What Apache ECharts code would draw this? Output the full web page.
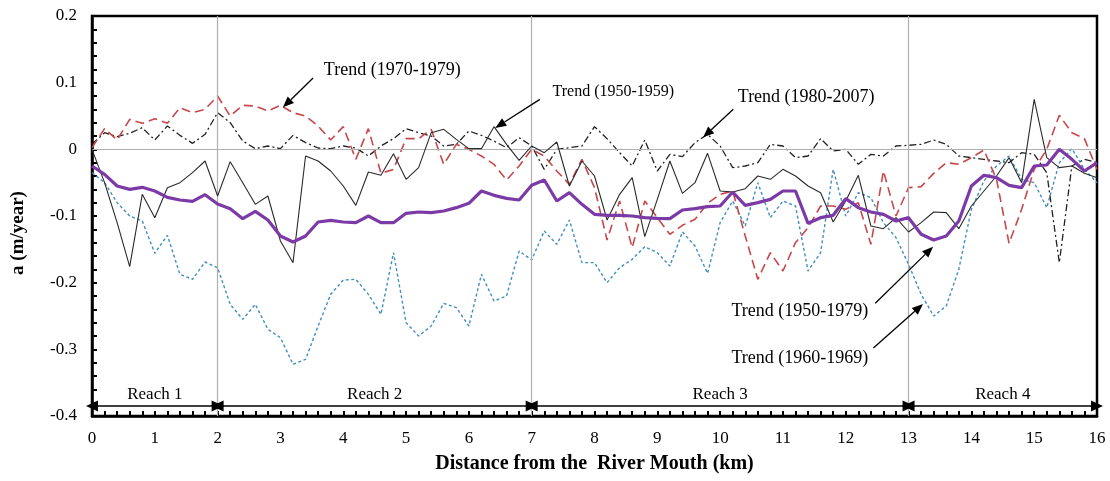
<!DOCTYPE html>
<html><head><meta charset="utf-8">
<script src="https://cdn.jsdelivr.net/npm/echarts@6/dist/echarts.min.js"></script>
<style>html,body{margin:0;padding:0;background:#fff}#c{width:1110px;height:481px}</style>
</head><body><div id="c"></div>
<script>
const distanceKm = [0,0.2,0.4,0.6,0.8,1,1.2,1.4,1.6,1.8,2,2.2,2.4,2.6,2.8,3,3.2,3.4,3.6,3.8,4,4.2,4.4,4.6,4.8,5,5.2,5.4,5.6,5.8,6,6.2,6.4,6.6,6.8,7,7.2,7.4,7.6,7.8,8,8.2,8.4,8.6,8.8,9,9.2,9.4,9.6,9.8,10,10.2,10.4,10.6,10.8,11,11.2,11.4,11.6,11.8,12,12.2,12.4,12.6,12.8,13,13.2,13.4,13.6,13.8,14,14.2,14.4,14.6,14.8,15,15.2,15.4,15.6,15.8,16];

const trend1950_1959 = [0,-0.05,-0.11,-0.176,-0.0675,-0.1025,-0.0575,-0.05,-0.035,-0.0175,-0.07,-0.0185,-0.05,-0.0825,-0.07,-0.1375,-0.17,-0.01,-0.0175,-0.0325,-0.055,-0.084,-0.034,-0.039,-0.0065,-0.045,-0.0275,0.025,0.03,0.015,0.001,0.001,0.034,0.0075,-0.0165,0.005,-0.005,0.011,-0.055,-0.0175,-0.04,-0.106,-0.0675,-0.0425,-0.131,-0.075,-0.0175,-0.066,-0.05,-0.006,-0.0625,-0.064,-0.059,-0.04,-0.045,-0.03,-0.04,-0.055,-0.065,-0.109,-0.0775,-0.039,-0.115,-0.119,-0.1025,-0.124,-0.11,-0.094,-0.095,-0.119,-0.085,-0.0625,-0.04,-0.0125,-0.05,0.075,-0.0125,-0.0275,-0.025,-0.036,-0.0425];

const trend1960_1969 = [-0.035,-0.05,-0.08,-0.1,-0.1075,-0.156,-0.129,-0.1875,-0.195,-0.169,-0.1775,-0.2325,-0.255,-0.2325,-0.27,-0.2825,-0.3225,-0.315,-0.265,-0.2175,-0.196,-0.195,-0.2175,-0.2475,-0.155,-0.26,-0.28,-0.265,-0.231,-0.2375,-0.265,-0.1875,-0.2275,-0.22,-0.1525,-0.166,-0.1225,-0.1425,-0.106,-0.17,-0.17,-0.2,-0.1775,-0.165,-0.146,-0.155,-0.175,-0.124,-0.145,-0.186,-0.11,-0.0775,-0.115,-0.05,-0.1025,-0.0775,-0.085,-0.1825,-0.155,-0.03,-0.1,-0.065,-0.0725,-0.11,-0.1325,-0.1725,-0.2175,-0.25,-0.235,-0.18,-0.09,-0.0475,-0.025,-0.01,-0.045,-0.05,-0.0875,-0.02,0.001,-0.03,-0.05];

const trend1970_1979 = [0.0025,0.031,0.014,0.045,0.039,0.046,0.039,0.0625,0.055,0.06,0.08,0.05,0.066,0.065,0.0575,0.066,0.055,0.05,0.035,0.014,0.034,-0.015,0.031,-0.036,-0.03,0.016,0.016,0.03,-0.0225,0.0075,0,-0.01,-0.0225,-0.046,-0.025,0,-0.01,-0.0325,-0.0525,-0.015,-0.0575,-0.136,-0.0775,-0.1475,-0.0775,-0.1025,-0.1275,-0.114,-0.105,-0.081,-0.0675,-0.0625,-0.13,-0.195,-0.155,-0.1825,-0.14,-0.1175,-0.085,-0.085,-0.09,-0.08,-0.1425,-0.0325,-0.1,-0.0575,-0.056,-0.036,-0.02,-0.0225,-0.0125,-0.001,-0.045,-0.141,-0.09,-0.03,0,0.051,0.025,0.016,-0.03];

const trend1980_2007 = [0.0075,0.025,0.019,0.024,0.0325,0.014,0.035,0.021,0.009,0.0225,0.055,0.04,0.0125,0.001,0.005,0.001,0.021,0.01,0.002,0.001,0.005,0.002,-0.01,0.005,0.016,0.031,0.025,0.02,0.005,0.0075,0.0275,0.021,0.0125,0.0025,0.0175,0.005,-0.03,0,0.0025,0.005,0.034,0.016,-0.005,-0.025,0.014,-0.0325,-0.0075,-0.011,0.01,0.0225,0.005,-0.0275,-0.025,-0.02,0.0075,0.005,-0.0125,-0.01,0.016,-0.0025,0,-0.0225,-0.0075,-0.01,0.005,0.006,0.0075,0.014,0.0075,-0.01,-0.0125,-0.015,-0.0175,-0.02,-0.005,-0.0075,-0.035,-0.17,-0.025,-0.015,-0.02];

const trend1950_1979 = [-0.025,-0.0375,-0.055,-0.06,-0.057,-0.0625,-0.072,-0.076,-0.078,-0.068,-0.082,-0.089,-0.104,-0.093,-0.106,-0.13,-0.139,-0.13,-0.109,-0.1065,-0.109,-0.11,-0.1,-0.11,-0.11,-0.096,-0.094,-0.095,-0.0925,-0.0875,-0.081,-0.0625,-0.069,-0.0735,-0.076,-0.054,-0.046,-0.0775,-0.065,-0.0825,-0.0975,-0.099,-0.099,-0.1,-0.1025,-0.1035,-0.104,-0.091,-0.089,-0.086,-0.085,-0.064,-0.084,-0.08,-0.075,-0.0625,-0.0625,-0.111,-0.1025,-0.099,-0.074,-0.0875,-0.094,-0.0975,-0.1075,-0.1025,-0.1275,-0.136,-0.13,-0.1075,-0.055,-0.039,-0.0425,-0.054,-0.0575,-0.025,-0.0235,0,-0.015,-0.0325,-0.02];

const reachBounds = [0, 2, 7, 13, 16];
const reachNames = ['Reach 1', 'Reach 2', 'Reach 3', 'Reach 4'];
const reachArrowLevel = -0.385;
const gridLinesX = [2, 7, 13];

const annotations = [
  {text: 'Trend (1970-1979)', at: [4.78, 0.119], from: [3.52, 0.107], to: [3.04, 0.063], size: 18},
  {text: 'Trend (1950-1959)', at: [8.30, 0.086], from: [7.13, 0.075], to: [6.42, 0.032], size: 16},
  {text: 'Trend (1980-2007)', at: [11.37, 0.078], from: [10.21, 0.060], to: [9.73, 0.018], size: 18},
  {text: 'Trend (1950-1979)', at: [11.27, -0.243], from: [12.47, -0.231], to: [13.39, -0.146], size: 18},
  {text: 'Trend (1960-1969)', at: [11.27, -0.313], from: [12.44, -0.298], to: [13.23, -0.232], size: 18}
];

const FONT = "'Liberation Serif','Times New Roman',serif";
const pair = arr => distanceKm.map((x, i) => [x, arr[i]]);

const chart = echarts.init(document.getElementById('c'), null, {renderer: 'canvas'});

const reachLines = [];
for (let k = 0; k < reachNames.length; k++) {
  reachLines.push([
    {coord: [reachBounds[k], reachArrowLevel], name: reachNames[k]},
    {coord: [reachBounds[k + 1], reachArrowLevel]}
  ]);
}

const option = {
  animation: false,
  backgroundColor: '#fff',
  grid: {left: 92, right: 13, top: 16, bottom: 65, show: true, borderColor: '#000', borderWidth: 2.5, backgroundColor: 'transparent'},
  xAxis: {
    type: 'value', min: 0, max: 16, interval: 1,
    name: 'Distance from the  River Mouth (km)', nameLocation: 'middle', nameGap: 38,
    nameTextStyle: {fontFamily: FONT, fontWeight: 'bold', fontSize: 20, color: '#000'},
    axisLine: {show: true, onZero: false, lineStyle: {color: '#000', width: 2.5}},
    axisTick: {show: true, inside: true, length: 5, lineStyle: {color: '#000', width: 2}},
    minorTick: {show: true, splitNumber: 5, length: 5, lineStyle: {color: '#000', width: 2}},
    axisLabel: {fontFamily: FONT, fontSize: 17, color: '#000', margin: 14},
    splitLine: {show: false}
  },
  yAxis: {
    type: 'value', min: -0.4, max: 0.2, interval: 0.1,
    name: 'a (m/year)', nameLocation: 'middle', nameGap: 64, nameRotate: 90,
    nameTextStyle: {fontFamily: FONT, fontWeight: 'bold', fontSize: 19, color: '#000', padding: [0, 34, 0, 0]},
    axisLine: {show: true, lineStyle: {color: '#000', width: 2.5}},
    axisTick: {show: true, inside: true, length: 5, lineStyle: {color: '#000', width: 2}},
    minorTick: {show: true, splitNumber: 5, length: 5, lineStyle: {color: '#000', width: 2}},
    axisLabel: {fontFamily: FONT, fontSize: 17, color: '#000', margin: 15},
    splitLine: {show: false}
  },
  series: [
    {
      name: 'Trend (1960-1969)', type: 'line', data: pair(trend1960_1969), showSymbol: false, z: 2,
      lineStyle: {color: '#3f8fbf', width: 1.4, type: [3, 2.5]},
      markLine: {
        silent: true, symbol: 'none', label: {show: false},
        lineStyle: {color: '#b0b0b0', width: 1.2, type: 'solid'},
        data: gridLinesX.map(x => ({xAxis: x})).concat([{yAxis: 0}])
      }
    },
    {
      name: 'Trend (1980-2007)', type: 'line', data: pair(trend1980_2007), showSymbol: false, z: 3,
      lineStyle: {color: '#222', width: 1.3, type: [7, 3, 2, 3]}
    },
    {
      name: 'Trend (1970-1979)', type: 'line', data: pair(trend1970_1979), showSymbol: false, z: 4,
      lineStyle: {color: '#c8474a', width: 1.6, type: [9, 5]}
    },
    {
      name: 'Trend (1950-1959)', type: 'line', data: pair(trend1950_1959), showSymbol: false, z: 5,
      lineStyle: {color: '#2a2a2a', width: 1.1, type: 'solid'}
    },
    {
      name: 'Trend (1950-1979)', type: 'line', data: pair(trend1950_1979), showSymbol: false, z: 6,
      lineStyle: {color: '#7b3aa6', width: 3.2, type: 'solid'}
    },
    {
      name: 'reaches', type: 'line', data: [], z: 7,
      markLine: {
        silent: true, symbol: ['triangle', 'triangle'], symbolSize: [11, 12],
        lineStyle: {color: '#000', width: 1.5, type: 'solid'},
        itemStyle: {color: '#000'},
        label: {show: true, position: 'insideMiddleTop', distance: 3, formatter: p => p.name, fontFamily: FONT, fontSize: 17, color: '#000'},
        data: reachLines
      }
    }
  ]
};
chart.setOption(option);

function arrowGraphics() {
  const g = [];
  annotations.forEach(a => {
    const at = chart.convertToPixel({gridIndex: 0}, a.at);
    const p0 = chart.convertToPixel({gridIndex: 0}, a.from);
    const p1 = chart.convertToPixel({gridIndex: 0}, a.to);
    const dx = p1[0] - p0[0], dy = p1[1] - p0[1];
    const L = Math.hypot(dx, dy), ux = dx / L, uy = dy / L;
    const hl = 11, hw = 4.5;
    const bx = p1[0] - ux * hl, by = p1[1] - uy * hl;
    g.push({type: 'line', shape: {x1: p0[0], y1: p0[1], x2: bx, y2: by}, style: {stroke: '#000', lineWidth: 1.3}, z: 100});
    g.push({type: 'polygon', shape: {points: [[p1[0], p1[1]], [bx - uy * hw, by + ux * hw], [bx + uy * hw, by - ux * hw]]}, style: {fill: '#000'}, z: 100});
    g.push({type: 'text', x: at[0], y: at[1], style: {text: a.text, fontFamily: FONT, fontSize: a.size, fill: '#000', align: 'center', verticalAlign: 'middle', backgroundColor: '#fff'}, z: 99});
  });
  return g;
}
chart.setOption({graphic: arrowGraphics()});
</script>
</body></html>
